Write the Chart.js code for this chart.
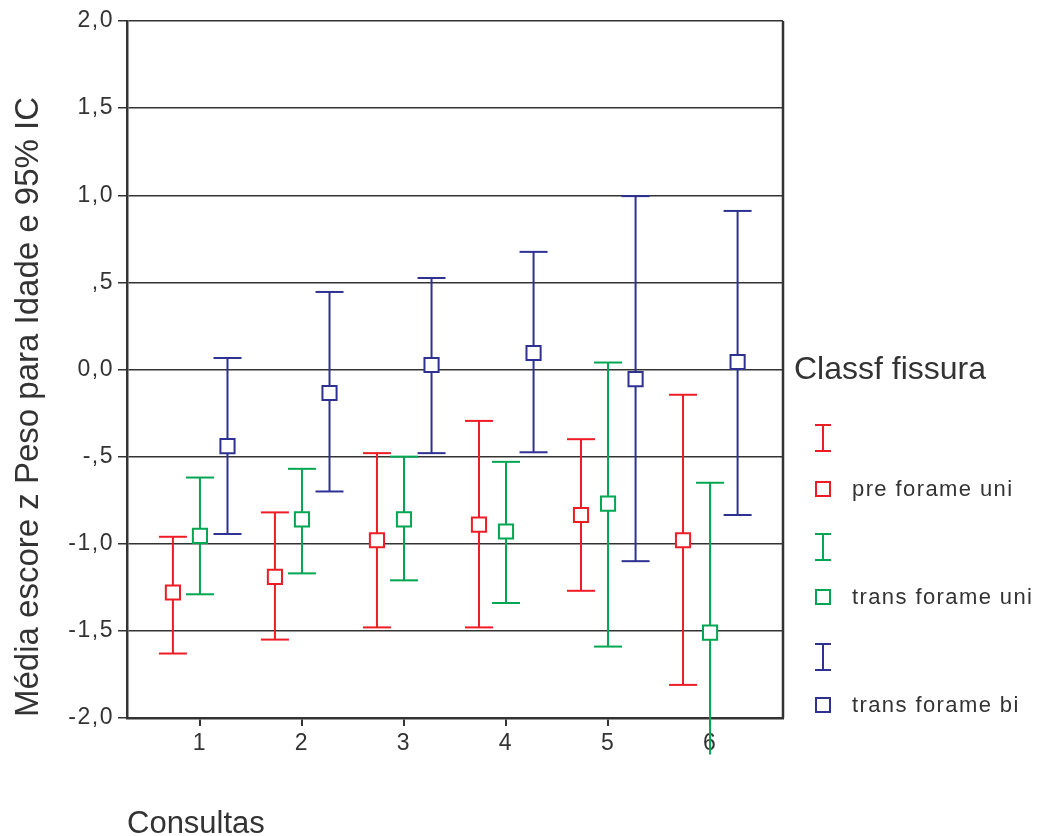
<!DOCTYPE html>
<html><head><meta charset="utf-8">
<script src="https://cdn.jsdelivr.net/npm/chart.js@4.4.0/dist/chart.umd.min.js"></script>
<style>html,body{margin:0;padding:0;background:#fff;}#wrap{width:1037px;height:836px;position:relative;}</style>
</head><body><div id="wrap"><canvas id="c" width="1037" height="836"></canvas></div>
<script>
const categories = [1, 2, 3, 4, 5, 6];
const seriesNames = ['pre forame uni', 'trans forame uni', 'trans forame bi'];
const seriesColors = ['#ee1c25', '#00a651', '#2e3192'];
const preMean = [-1.28, -1.19, -0.98, -0.89, -0.835, -0.98];
const preLow  = [-1.63, -1.55, -1.48, -1.48, -1.27, -1.81];
const preHigh = [-0.96, -0.82, -0.48, -0.295, -0.40, -0.145];
const transUniMean = [-0.955, -0.86, -0.86, -0.93, -0.77, -1.51];
const transUniLow  = [-1.29, -1.17, -1.21, -1.34, -1.59, -2.21];
const transUniHigh = [-0.62, -0.57, -0.50, -0.53, 0.04, -0.65];
const transBiMean = [-0.44, -0.135, 0.026, 0.095, -0.055, 0.043];
const transBiLow  = [-0.944, -0.70, -0.48, -0.475, -1.10, -0.835];
const transBiHigh = [0.066, 0.445, 0.525, 0.675, 0.995, 0.91];
const seriesOffsets = [-0.265, 0, 0.27];
const yTickValues = [-2, -1.5, -1, -0.5, 0, 0.5, 1, 1.5, 2];
const yTickLabels = ['-2,0', '-1,5', '-1,0', '-,5', '0,0', ',5', '1,0', '1,5', '2,0'];
const xTitle = 'Consultas';
const yTitle = 'Média escore z Peso para Idade e 95% IC';
const legendTitle = 'Classf fissura';

const means = [preMean, transUniMean, transBiMean];
const lows = [preLow, transUniLow, transBiLow];
const highs = [preHigh, transUniHigh, transBiHigh];
const FONT = '"Liberation Sans", Arial, sans-serif';
const TEXT = '#333333';

const datasets = seriesNames.map((name, s) => ({
  label: name,
  data: categories.map((c, i) => ({x: c + seriesOffsets[s], y: means[s][i], lo: lows[s][i], hi: highs[s][i]})),
  pointStyle: 'rect', radius: 10, hoverRadius: 10, borderWidth: 2,
  borderColor: seriesColors[s], backgroundColor: '#ffffff', showLine: false, clip: false
}));

const custom = {
  id: 'custom',
  beforeDraw(chart) {
    chart.ctx.letterSpacing = '1.5px';
  },
  beforeDatasetsDraw(chart) {
    const ctx = chart.ctx, xs = chart.scales.x, ys = chart.scales.y;
    ctx.letterSpacing = '0px';
    ctx.save();
    ctx.lineWidth = 2;
    chart.data.datasets.forEach((ds) => {
      ctx.strokeStyle = ds.borderColor;
      ds.data.forEach(p => {
        const x = xs.getPixelForValue(p.x);
        const yl = ys.getPixelForValue(p.lo), yh = ys.getPixelForValue(p.hi);
        ctx.beginPath(); ctx.moveTo(x, yl); ctx.lineTo(x, yh); ctx.stroke();
        const hw = 14;
        [[p.lo, yl], [p.hi, yh]].forEach(([v, y]) => {
          if (v >= ys.min && v <= ys.max) {
            ctx.beginPath(); ctx.moveTo(x - hw, y); ctx.lineTo(x + hw, y); ctx.stroke();
          }
        });
      });
    });
    ctx.restore();
  },
  afterDraw(chart) {
    const ctx = chart.ctx, a = chart.chartArea;
    ctx.save();
    ctx.letterSpacing = '0px';
    ctx.strokeStyle = '#333'; ctx.lineWidth = 2.5;
    ctx.beginPath(); ctx.moveTo(a.right, a.top); ctx.lineTo(a.right, a.bottom); ctx.stroke();
    ctx.fillStyle = TEXT;
    ctx.textAlign = 'left'; ctx.textBaseline = 'alphabetic';
    ctx.font = '31px ' + FONT;
    ctx.fillText(xTitle, 127, 833);
    ctx.font = '32px ' + FONT;
    ctx.fillText(legendTitle, 794, 379);
    ctx.save();
    ctx.font = '33px ' + FONT;
    ctx.translate(38, 407); ctx.rotate(-Math.PI / 2);
    ctx.textAlign = 'center';
    ctx.fillText(yTitle, 0, 0);
    ctx.restore();
    const itemY = [[438, 489], [547, 597], [657, 705]];
    seriesNames.forEach((name, s) => {
      const [gy, sy] = itemY[s];
      ctx.strokeStyle = seriesColors[s]; ctx.lineWidth = 2;
      const cx = 823;
      ctx.beginPath();
      ctx.moveTo(cx, gy - 13); ctx.lineTo(cx, gy + 13);
      ctx.moveTo(cx - 8, gy - 13); ctx.lineTo(cx + 8, gy - 13);
      ctx.moveTo(cx - 8, gy + 13); ctx.lineTo(cx + 8, gy + 13);
      ctx.stroke();
      ctx.strokeRect(cx - 7, sy - 7, 14, 14);
      ctx.fillStyle = TEXT;
      ctx.font = '22px ' + FONT;
      ctx.letterSpacing = '1.4px';
      ctx.fillText(name, 852, sy + 7);
      ctx.letterSpacing = '0px';
    });
    ctx.restore();
  }
};

new Chart(document.getElementById('c'), {
  type: 'scatter',
  data: {datasets},
  options: {
    responsive: false, animation: false, devicePixelRatio: 1,
    layout: {padding: {left: 0, top: 21, right: 254, bottom: 68}},
    plugins: {legend: {display: false}, tooltip: {enabled: false}},
    scales: {
      x: {
        type: 'linear', min: 0.285, max: 6.715,
        afterBuildTicks: sc => { sc.ticks = categories.map(v => ({value: v})); },
        afterFit: sc => { sc.height = 50; },
        grid: {display: true, drawOnChartArea: false, drawTicks: true, tickLength: 8, color: '#333', lineWidth: 2},
        border: {display: true, color: '#333', width: 2.5},
        ticks: {font: {family: FONT, size: 23}, color: TEXT, padding: 4, callback: v => String(v)}
      },
      y: {
        min: -2, max: 2,
        afterBuildTicks: sc => { sc.ticks = yTickValues.map(v => ({value: v})); },
        afterFit: sc => { sc.width = 127; },
        grid: {color: '#333', lineWidth: 1.5, tickLength: 9},
        border: {display: true, color: '#333', width: 2.5},
        ticks: {font: {family: FONT, size: 23}, color: TEXT, padding: 4,
          callback: v => { const i = yTickValues.indexOf(v); return i >= 0 ? yTickLabels[i] : ''; }}
      }
    }
  },
  plugins: [custom]
});
</script></body></html>
